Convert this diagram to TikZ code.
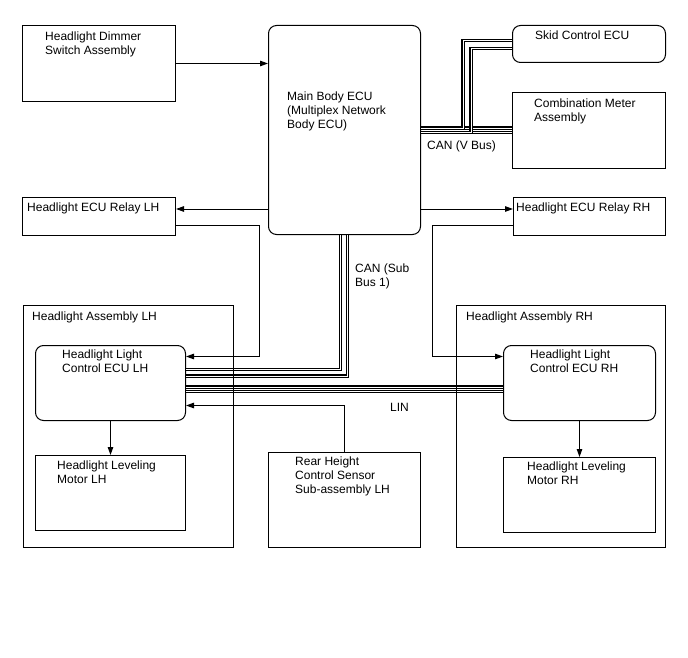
\documentclass[tikz,border=0pt]{standalone}
\usepackage{fontspec}
\setmainfont{Liberation Sans}
\usetikzlibrary{arrows.meta,positioning}
\newcommand{\boxfont}{\fontsize{12}{14}\selectfont}
\tikzset{
  box/.style={draw, line width=1pt, anchor=north west, inner sep=0pt},
  ecu/.style={box, rounded corners=8pt},
  txt/.style={anchor=north west, align=left, inner sep=0pt, font=\boxfont},
  arrow/.style={-{Triangle[length=8pt, width=5.5pt]}, line width=1pt},
  wire/.style={line width=1.25pt, double=white, double distance=0.7pt}
}

\begin{document}
\begin{tikzpicture}[x=1pt, y=-1pt]
        \useasboundingbox (0,0) rectangle (688,658);
        \node[box, minimum width=153, minimum height=76, label={[txt, xshift=23, yshift=-7]north west:Headlight Dimmer\\Switch Assembly}] (dimmer) at (22,25) {};
        \node[ecu, minimum width=152, minimum height=209, label={[txt, xshift=19, yshift=-67]north west:Main Body ECU\\(Multiplex Network\\Body ECU)}] (main) at (268,25) {};
        \node[ecu, minimum width=153, minimum height=37, label={[txt, xshift=23, yshift=-6]north west:Skid Control ECU}] (skid) at (512,25) {};
        \node[box, minimum width=153, minimum height=76, label={[txt, xshift=22, yshift=-7]north west:Combination Meter\\Assembly}] (combo) at (512,92) {};
        \node[box, minimum width=153, minimum height=38, label={[txt, xshift=5, yshift=-6]north west:Headlight ECU Relay LH}] (relayLH) at (22,197) {};
        \node[box, minimum width=152, minimum height=38, label={[txt, xshift=3, yshift=-6]north west:Headlight ECU Relay RH}] (relayRH) at (513,197) {};
        \node[ecu, minimum width=150, minimum height=75, label={[txt, xshift=27, yshift=-5]north west:Headlight Light\\Control ECU LH}] (ecuLH) at (35,345) {};
        \node[ecu, minimum width=152, minimum height=75, label={[txt, xshift=27, yshift=-5]north west:Headlight Light\\Control ECU RH}] (ecuRH) at (503,345) {};
        \node[box, minimum width=150, minimum height=75, label={[txt, xshift=22, yshift=-6]north west:Headlight Leveling\\Motor LH}] (motorLH) at (35,455) {};
        \node[box, minimum width=152, minimum height=75, label={[txt, xshift=24, yshift=-5]north west:Headlight Leveling\\Motor RH}] (motorRH) at (503,457) {};
        \node[box, minimum width=152, minimum height=95, label={[txt, xshift=27, yshift=-5]north west:Rear Height\\Control Sensor\\Sub-assembly LH}] (sensor) at (268,452) {};
        % CAN (V Bus)
        \draw[wire] ([yshift=2]main.east) -- ([yshift=2]main.east -| combo.west);
        \draw[wire] ([yshift=2]main.east) -- ++(42,0) |- ([yshift=3.5]skid.west);
        \draw[wire] ([yshift=-2.5]main.east) -- ([yshift=-2.5]main.east -| combo.west);
        \draw[wire] ([yshift=-2.5]main.east) -- ++(50,0) |- ([yshift=-4.5]skid.west);
        % CAN (Sub Bus 1) and LIN
        \draw[wire] ([xshift=-4]main.south) |- ([yshift=13.5]ecuLH.east);
        \draw[wire] ([xshift=3]main.south) |- ([yshift=7]ecuLH.east);
        \draw[wire] ([yshift=-4]ecuLH.east) -- ([yshift=-4]ecuRH.west);
        \draw[wire] ([yshift=-8.5]ecuLH.east) -- ([yshift=-8.5]ecuRH.west);
        \node[box, minimum width=210, minimum height=242, label={[txt, xshift=9, yshift=-7]north west:Headlight Assembly LH}] (assyLH) at (23,305) {};
        \node[box, minimum width=209, minimum height=242, label={[txt, xshift=10, yshift=-7]north west:Headlight Assembly RH}] (assyRH) at (456,305) {};
        \node[txt] (canV) at (427,141) {CAN (V Bus)};
        \node[txt] (canSub) at (355,264) {CAN (Sub\\Bus 1)};
        \node[txt] (lin) at (390,403) {LIN};
        % signal lines
        \draw[arrow] (dimmer.east) -- (dimmer.east -| main.west);
        \draw[arrow] ([yshift=7.5]relayLH.east -| main.west) -- ([yshift=7.5]relayLH.east);
        \draw[arrow] ([yshift=7.5]relayRH.west -| main.east) -- ([yshift=7.5]relayRH.west);
        \draw[arrow] ([yshift=-8.5]relayLH.east) -- ++(83,0) |- ([yshift=26.5]ecuLH.east);
        \draw[arrow] ([yshift=-8.5]relayRH.west) -- ++(-81,0) |- ([yshift=26.5]ecuRH.west);
        \draw[arrow] (sensor.north) |- ([yshift=-22.5]ecuLH.east);
        \foreach \a/\b in {ecuLH/motorLH,ecuRH/motorRH}{\draw[arrow] (\a) -- (\b);}
\end{tikzpicture}
\end{document}
